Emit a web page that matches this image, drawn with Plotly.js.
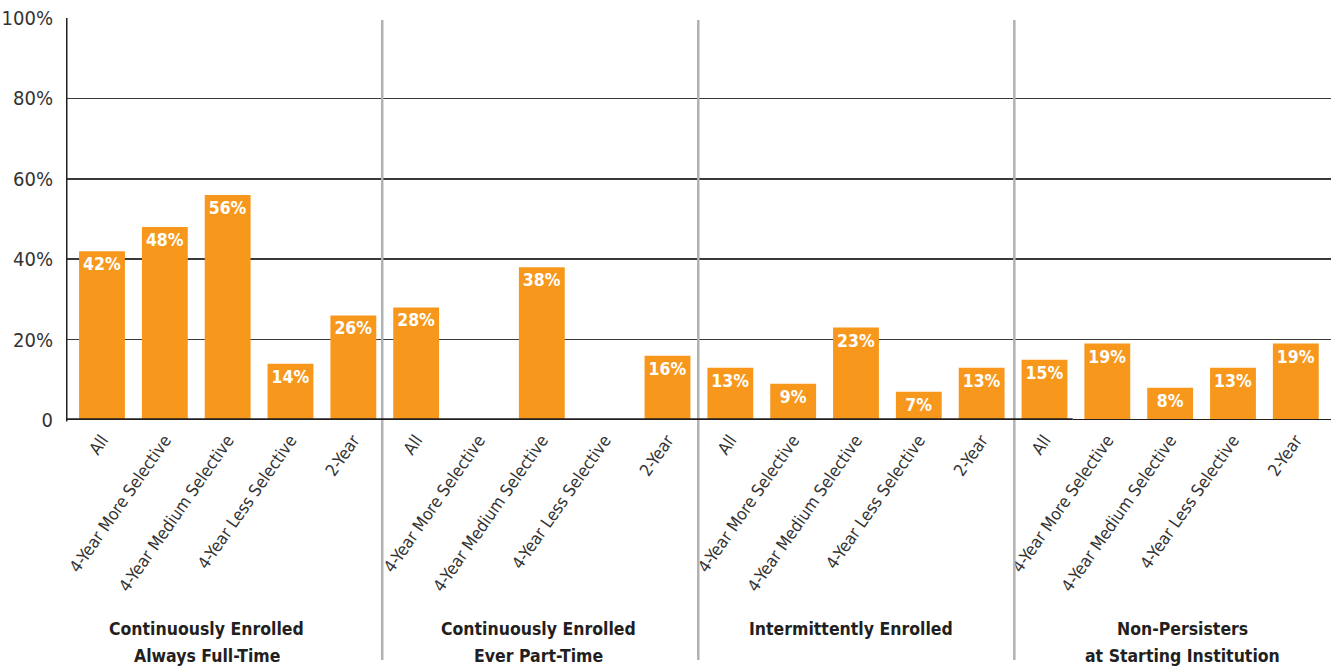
<!DOCTYPE html>
<html>
<head>
<meta charset="utf-8">
<script src="https://cdn.plot.ly/plotly-3.0.1.min.js"></script>
<style>
  html, body { margin: 0; padding: 0; background: #fff; }
  #chart { width: 1331px; height: 671px; }
</style>
</head>
<body>
<div id="chart"></div>
<script>
// Sub-categories repeated inside every enrollment group
const subCategories = ["All", "4-Year More Selective", "4-Year Medium Selective", "4-Year Less Selective", "2-Year"];

// Enrollment groups (two-line headings)
const groupNames = [
  ["Continuously Enrolled", "Always Full-Time"],
  ["Continuously Enrolled", "Ever Part-Time"],
  ["Intermittently Enrolled"],
  ["Non-Persisters", "at Starting Institution"]
];

// Percentage per sub-category, one array per group (null = no bar)
const alwaysFullTime = [42, 48, 56, 14, 26];
const everPartTime   = [28, null, 38, null, 16];
const intermittent   = [13, 9, 23, 7, 13];
const nonPersisters  = [15, 19, 8, 13, 19];

const yTickValues = [0, 20, 40, 60, 80, 100];
const yTickLabels = ["0", "20%", "40%", "60%", "80%", "100%"];

const series = [alwaysFullTime, everPartTime, intermittent, nonPersisters];
const values = [].concat(...series);
const positions = values.map((_, i) => i);
const tickText = [].concat(...series.map(() => subCategories));

const orange = "#F7981D";
const narrow = "'Liberation Sans Narrow', 'DejaVu Sans Condensed', 'Roboto Condensed', sans-serif";

const trace = {
  type: "bar",
  x: positions,
  y: values,
  width: 0.73,
  marker: { color: orange },
  text: values.map(v => (v === null ? "" : v + "%")),
  textposition: "inside",
  insidetextanchor: "end",
  constraintext: "none",
  textangle: 0,
  cliponaxis: false,
  insidetextfont: { family: narrow, size: 17.5, color: "#ffffff", weight: "bold" },
  hoverinfo: "skip"
};

// Horizontal centres of the group headings, in bar-index units
const groupCentres = [1.67, 6.95, 11.92, 17.2];
const separators = [4.46, 9.49, 14.52];

const xMin = -0.573, xMax = 19.56;

const shapes = [];
separators.forEach(s => shapes.push({
  type: "line", xref: "x", yref: "paper", x0: s, x1: s, y0: 0.995, y1: -0.597,
  line: { color: "#b2b2b4", width: 2.5 }, layer: "above"
}));
// baseline: heavy under the first groups, lighter at the far right
shapes.push({ type: "line", xref: "x", yref: "y", x0: xMin, x1: 15.45, y0: 0, y1: 0,
  line: { color: "#231f20", width: 3.5 }, layer: "above" });
shapes.push({ type: "line", xref: "x", yref: "y", x0: 15.45, x1: xMax, y0: 0, y1: 0,
  line: { color: "#231f20", width: 2 }, layer: "above" });
// left axis
shapes.push({ type: "line", xref: "x", yref: "paper", x0: xMin, x1: xMin, y0: -0.004, y1: 1,
  line: { color: "#231f20", width: 3 }, layer: "above" });

// one annotation per heading line so the line spacing can be set exactly
const headingLineY = [-0.520, -0.587];
const annotations = [];
groupNames.forEach((g, i) => {
  g.forEach((line, j) => annotations.push({
    xref: "x", yref: "paper", x: groupCentres[i], y: headingLineY[j],
    yanchor: "middle", xanchor: "center", showarrow: false,
    text: line,
    font: { family: narrow, size: 17.5, color: "#231f20", weight: "bold" }
  }));
});

const layout = {
  width: 1331, height: 671,
  margin: { l: 66, r: 0, t: 18, b: 251, pad: 0 },
  paper_bgcolor: "#ffffff", plot_bgcolor: "#ffffff",
  showlegend: false,
  bargap: 0.27,
  xaxis: {
    range: [xMin, xMax],
    tickmode: "array", tickvals: positions, ticktext: tickText,
    tickangle: -55, showgrid: false, zeroline: false, showline: false,
    ticks: "", ticklabelstandoff: 6,
    tickfont: { family: narrow, size: 17, color: "#333333" },
    fixedrange: true
  },
  yaxis: {
    range: [0, 100],
    tickmode: "array", tickvals: yTickValues, ticktext: yTickLabels,
    showgrid: true, gridcolor: "#3a3a3a", gridwidth: 1.5,
    zeroline: false, showline: false, ticks: "",
    ticklabelstandoff: 12,
    tickfont: { family: narrow, size: 20, color: "#333333" },
    fixedrange: true
  },
  shapes: shapes,
  annotations: annotations
};

Plotly.newPlot("chart", [trace], layout, { displayModeBar: false, staticPlot: true });
</script>
</body>
</html>
